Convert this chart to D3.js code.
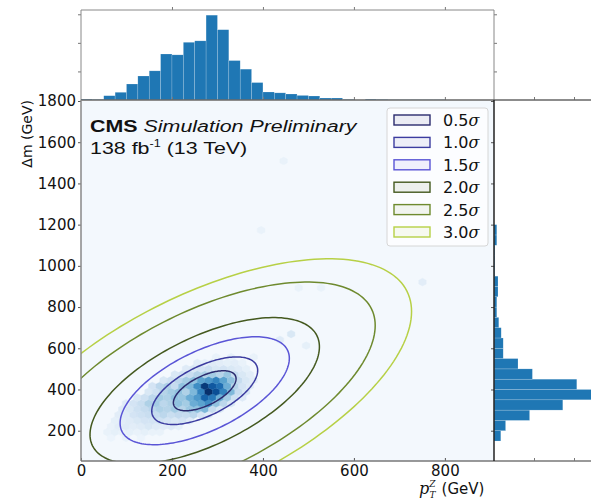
<!DOCTYPE html>
<html>
<head>
<meta charset="utf-8">
<script src="https://cdn.jsdelivr.net/npm/d3@7"></script>
<style>
body{margin:0;background:#fff}
text{font-family:'DejaVu Sans',sans-serif}
</style>
</head>
<body>
<svg id="svg" width="591" height="500"></svg>
<script>
// top histogram: pT of Z, 25 GeV bins from 0
var ptWidth = 25;
var ptCounts = [3, 2, 15, 27, 56, 84, 102, 161, 158, 202, 207, 297, 246, 138, 108, 61,
                28, 25, 21, 16, 14, 7, 7, 2, 0, 3, 2, 1, 1, 1, 1, 1];
// right histogram: delta m, 50 GeV bins from 150
var dmStart = 150, dmWidth = 50;
var dmCounts = [17, 29, 89, 172, 262, 207, 96, 60, 23, 23, 18, 12, 7, 7, 10, 10, 2, 2, 2, 7, 7];
// hexbin cells [pT, dm, count], cell size in GeV
var hexSize = [16.5, 56];
var hexCells = [
  [66,165,2],[99,165,3],[132,165,2],
  [57.75,193,3],[74.25,193,4],[90.75,193,3],[107.25,193,4],[123.75,193,3],[140.25,193,4],[156.75,193,3],[173.25,193,3],
  [66,221,3],[82.5,221,5],[99,221,6],[115.5,221,5],[132,221,6],[148.5,221,8],[165,221,6],[181.5,221,5],[198,221,6],[214.5,221,4],
  [74.25,249,4],[90.75,249,5],[107.25,249,6],[123.75,249,8],[140.25,249,10],[156.75,249,10],[173.25,249,12],[189.75,249,10],[206.25,249,8],[222.75,249,10],[239.25,249,6],
  [82.5,277,5],[99,277,6],[115.5,277,10],[132,277,12],[148.5,277,14],[165,277,15],[181.5,277,18],[198,277,14],[214.5,277,16],[231,277,15],[247.5,277,18],[264,277,10],[280.5,277,6],
  [90.75,305,6],[107.25,305,8],[123.75,305,12],[140.25,305,15],[156.75,305,18],[173.25,305,22],[189.75,305,20],[206.25,305,25],[222.75,305,20],[239.25,305,28],[255.75,305,30],[272.25,305,35],[288.75,305,15],[305.25,305,8],
  [99,333,6],[115.5,333,10],[132,333,14],[148.5,333,22],[165,333,25],[181.5,333,18],[198,333,22],[214.5,333,30],[231,333,25],[247.5,333,40],[264,333,45],[280.5,333,55],[297,333,30],[313.5,333,18],[330,333,8],
  [123.75,361,8],[140.25,361,12],[156.75,361,18],[173.25,361,25],[189.75,361,22],[206.25,361,30],[222.75,361,28],[239.25,361,40],[255.75,361,50],[272.25,361,75],[288.75,361,65],[305.25,361,40],[321.75,361,25],[338.25,361,12],[354.75,361,6],
  [148.5,389,8],[165,389,12],[181.5,389,20],[198,389,25],[214.5,389,30],[231,389,22],[247.5,389,35],[264,389,60],[280.5,389,100],[297,389,85],[313.5,389,60],[330,389,35],[346.5,389,15],[363,389,8],
  [156.75,417,10],[173.25,417,18],[189.75,417,22],[206.25,417,15],[222.75,417,30],[239.25,417,35],[255.75,417,55],[272.25,417,95],[288.75,417,80],[305.25,417,70],[321.75,417,40],[338.25,417,20],[354.75,417,10],[371.25,417,6],
  [181.5,445,8],[198,445,12],[214.5,445,18],[231,445,25],[247.5,445,30],[264,445,45],[280.5,445,50],[297,445,60],[313.5,445,45],[330,445,30],[346.5,445,15],[363,445,8],[379.5,445,5],
  [206.25,473,8],[222.75,473,10],[239.25,473,14],[255.75,473,20],[272.25,473,22],[288.75,473,25],[305.25,473,20],[321.75,473,28],[338.25,473,15],[354.75,473,8],[371.25,473,5],
  [231,501,6],[247.5,501,8],[264,501,10],[280.5,501,12],[297,501,8],[313.5,501,10],[330,501,8],[346.5,501,6],[363,501,4],
  [255.75,529,5],[272.25,529,4],[288.75,529,6],[305.25,529,5],[321.75,529,4],[338.25,529,5],[354.75,529,3],
  [297,557,3],[330,557,4],[379.5,557,3],
  [495,613,4],[437.25,641,6],[462,669,8],[478.5,893,3],[528,893,3],[750.75,921,5],[396,1173,3],[445.5,1509,3]
];
// gaussian contours
var gaus = {mx: 272, my: 394, sx: 137.8, sy: 194, rho: 0.6};
var sigmaLabels = ['0.5', '1.0', '1.5', '2.0', '2.5', '3.0'];
var sigmaRadii = [0.5, 0.845, 1.35, 1.83, 2.72, 3.3];
var sigmaColors = ['#2b2b6e', '#3c3ca0', '#5a55d6', '#44591f', '#6e8a2e', '#b7d046'];
var xTicks = [0, 200, 400, 600, 800];
var yTicks = [200, 400, 600, 800, 1000, 1200, 1400, 1600, 1800];

var svg = d3.select('#svg');
var x = d3.scaleLinear().domain([0, 908]).range([81, 494]);
var y = d3.scaleLinear().domain([53, 1800]).range([461, 101]);
var yTop = d3.scaleLinear().domain([0, 315]).range([100, 10]);
var xRight = d3.scaleLinear().domain([0, 300]).range([494, 614]);
var color = d3.scaleSequentialPow(d3.interpolateBlues).exponent(0.75).domain([0, 100]);

// main panel background + hexbin
svg.append('clipPath').attr('id', 'clipMain')
  .append('rect').attr('x', 81).attr('y', 101).attr('width', 413).attr('height', 360);
var main = svg.append('g').attr('clip-path', 'url(#clipMain)');
main.append('rect')
  .attr('x', 81).attr('y', 101).attr('width', 413).attr('height', 360)
  .attr('fill', '#f3f8fd');

function hexPath(d){
  var hx = hexSize[0] / 2, hy = hexSize[1] / 3;
  var pts = [[d[0]+hx, d[1]-hy/2], [d[0]+hx, d[1]+hy/2], [d[0], d[1]+hy],
             [d[0]-hx, d[1]+hy/2], [d[0]-hx, d[1]-hy/2], [d[0], d[1]-hy]];
  return 'M' + pts.map(function(p){ return x(p[0]) + ',' + y(p[1]); }).join('L') + 'Z';
}
main.selectAll('path.hex')
  .data(hexCells)
  .enter()
  .append('path')
  .attr('class', 'hex')
  .attr('d', hexPath)
  .attr('fill', function(d){ return color(d[2]); })
  .attr('stroke', function(d){ return color(d[2]); })
  .attr('stroke-width', 0.4);

// contour ellipses
var line = d3.line().curve(d3.curveLinearClosed);
sigmaRadii.forEach(function(r, i){
  var pts = d3.range(0, 2 * Math.PI, Math.PI / 90).map(function(t){
    var px = gaus.mx + r * gaus.sx * Math.cos(t);
    var py = gaus.my + r * gaus.sy * (gaus.rho * Math.cos(t) + Math.sqrt(1 - gaus.rho * gaus.rho) * Math.sin(t));
    return [x(px), y(py)];
  });
  main.append('path')
    .attr('d', line(pts))
    .attr('fill', 'none')
    .attr('stroke', sigmaColors[i])
    .attr('stroke-width', 1.5);
});

// top histogram
svg.selectAll('rect.pt')
  .data(ptCounts)
  .enter()
  .append('rect')
  .attr('class', 'pt')
  .attr('x', function(d, i){ return x(i * ptWidth); })
  .attr('y', function(d){ return yTop(d); })
  .attr('width', x(ptWidth) - x(0))
  .attr('height', function(d){ return yTop(0) - yTop(d); })
  .attr('fill', '#1f77b4')
  .attr('stroke', 'rgba(255,255,255,0.35)')
  .attr('stroke-width', 0.5);

// right histogram
svg.selectAll('rect.dm')
  .data(dmCounts)
  .enter()
  .append('rect')
  .attr('class', 'dm')
  .attr('x', xRight(0))
  .attr('y', function(d, i){ return y(dmStart + (i + 1) * dmWidth); })
  .attr('width', function(d){ return xRight(d) - xRight(0); })
  .attr('height', y(0) - y(dmWidth))
  .attr('fill', '#1f77b4')
  .attr('stroke', 'rgba(255,255,255,0.35)')
  .attr('stroke-width', 0.5);

// axes
function styleAxis(g, col){
  g.select('.domain').remove();
  g.selectAll('line').attr('stroke', col).attr('stroke-width', 1);
  g.selectAll('text').attr('font-size', 15).attr('fill', '#111');
}
svg.append('g').attr('transform', 'translate(81,0)')
  .call(d3.axisLeft(y).tickValues(yTicks).tickSize(3).tickPadding(2).tickFormat(d3.format('d')))
  .call(styleAxis, '#555');
svg.append('g').attr('transform', 'translate(0,461)')
  .call(d3.axisBottom(x).tickValues(xTicks).tickSize(-3).tickPadding(4).tickFormat(d3.format('d')))
  .call(styleAxis, '#555');
// small ticks of side panels
svg.append('g').attr('transform', 'translate(0,10)')
  .call(d3.axisTop(x).tickValues(xTicks.slice(1)).tickSize(3).tickFormat(''))
  .call(styleAxis, '#777');
svg.append('g').attr('transform', 'translate(0,100)')
  .call(d3.axisBottom(x).tickValues(xTicks.slice(1)).tickSize(-3).tickFormat(''))
  .call(styleAxis, '#777');
svg.append('g').attr('transform', 'translate(81,0)')
  .call(d3.axisLeft(yTop).tickValues([100, 200, 300]).tickSize(3).tickFormat(''))
  .call(styleAxis, '#777');
svg.append('g').attr('transform', 'translate(494,0)')
  .call(d3.axisRight(yTop).tickValues([100, 200, 300]).tickSize(3).tickFormat(''))
  .call(styleAxis, '#777');
svg.append('g').attr('transform', 'translate(0,100)')
  .call(d3.axisTop(xRight).tickValues([100, 200]).tickSize(3).tickFormat(''))
  .call(styleAxis, '#777');
svg.append('g').attr('transform', 'translate(0,461)')
  .call(d3.axisBottom(xRight).tickValues([100, 200]).tickSize(-3).tickFormat(''))
  .call(styleAxis, '#777');
svg.append('g').attr('transform', 'translate(494,0)')
  .call(d3.axisLeft(y).tickValues(yTicks).tickSize(3).tickFormat(''))
  .call(styleAxis, '#555');

// spines
function spine(x1, y1, x2, y2, col, w){
  svg.append('line').attr('x1', x1).attr('y1', y1).attr('x2', x2).attr('y2', y2)
    .attr('stroke', col).attr('stroke-width', w);
}
spine(81, 10, 494, 10, '#888', 1);
spine(81, 10, 81, 100, '#888', 1);
spine(494, 10, 494, 100, '#888', 1);
spine(81, 100, 591, 100, '#666', 1.3);
spine(81, 100, 81, 461, '#888', 1.5);
spine(81, 461, 591, 461, '#777', 1.5);
spine(494, 100, 494, 461, '#222', 1.5);

// legend
var leg = svg.append('g');
leg.append('rect')
  .attr('x', 387).attr('y', 108).attr('width', 101).attr('height', 138).attr('rx', 3)
  .attr('fill', 'rgba(255,255,255,0.75)').attr('stroke', '#d6d6d6');
sigmaLabels.forEach(function(s, i){
  var cy = 120 + i * 22.4;
  leg.append('rect')
    .attr('x', 394).attr('y', cy - 5).attr('width', 36).attr('height', 10)
    .attr('fill', sigmaColors[i]).attr('fill-opacity', 0.08)
    .attr('stroke', sigmaColors[i]).attr('stroke-width', 1.4);
  var t = leg.append('text').attr('x', 443).attr('y', cy + 6).attr('font-size', 16).attr('fill', '#111');
  t.append('tspan').text(s);
  t.append('tspan').attr('font-family', 'DejaVu Serif').attr('font-style', 'italic').text('σ');
});

// CMS header
var hd = svg.append('g').attr('transform', 'translate(90,0) scale(1.26,1)');
var t1 = hd.append('text').attr('x', 0).attr('y', 132).attr('font-size', 17)
  .style('font-family', 'Liberation Sans, Arial, sans-serif').attr('fill', '#111');
t1.append('tspan').attr('font-weight', 'bold').text('CMS ');
t1.append('tspan').attr('font-style', 'italic').text('Simulation Preliminary');
var t2 = hd.append('text').attr('x', 0).attr('y', 154).attr('font-size', 17)
  .style('font-family', 'Liberation Sans, Arial, sans-serif').attr('fill', '#111');
t2.append('tspan').text('138 fb');
t2.append('tspan').attr('font-size', 10).attr('dy', -7).text('-1');
t2.append('tspan').attr('dy', 7).text(' (13 TeV)');

// axis titles
svg.append('text')
  .attr('transform', 'translate(32,100) rotate(-90)')
  .attr('text-anchor', 'end').attr('font-size', 14).attr('fill', '#111')
  .text('Δm (GeV)');
var xl = svg.append('text').attr('x', 419).attr('y', 494).attr('fill', '#111');
xl.append('tspan').attr('font-size', 16).style('font-family', 'DejaVu Serif')
  .attr('font-style', 'italic').text('p');
xl.append('tspan').attr('font-size', 9).style('font-family', 'DejaVu Serif')
  .attr('font-style', 'italic').attr('dy', -7).text('Z');
xl.append('tspan').attr('font-size', 9).style('font-family', 'DejaVu Serif')
  .attr('font-style', 'italic').attr('dx', -6).attr('dy', 11).text('T');
xl.append('tspan').attr('font-size', 15).attr('dy', -4).attr('dx', 6).text('(GeV)');
</script>
</body>
</html>
